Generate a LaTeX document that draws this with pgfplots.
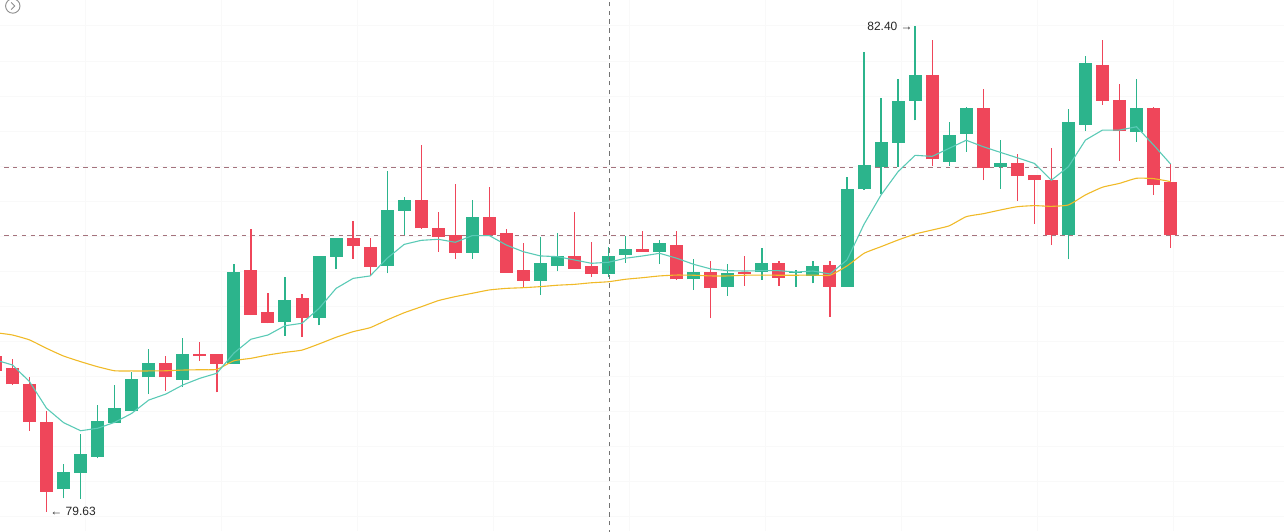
\documentclass[border=0pt]{standalone}
\usepackage{pgfplots}
\pgfplotsset{compat=1.18}
\usepackage{pgfplotstable}
\usepackage{fontspec}
\setmainfont{Liberation Sans}
\definecolor{cgreen}{RGB}{44,180,140}
\definecolor{cred}{RGB}{239,70,90}
\definecolor{corange}{RGB}{240,186,40}
\definecolor{cteal}{RGB}{90,202,182}
\definecolor{cdash}{RGB}{165,115,125}

\pgfplotstableread{
i O C H L
3 79.757 79.854 79.899 79.705
4 79.852 79.958 80.071 79.702
5 79.943 80.146 80.236 79.934
6 80.137 80.221 80.350 80.133
7 80.205 80.386 80.428 80.203
8 80.396 80.477 80.557 80.300
10 80.382 80.529 80.622 80.342
13 80.473 80.996 81.042 80.472
16 80.711 80.837 80.970 80.633
18 80.736 81.088 81.090 80.692
19 81.084 81.190 81.193 81.012
22 81.032 81.350 81.573 80.989
23 81.346 81.407 81.423 81.207
27 81.107 81.310 81.407 81.072
31 80.947 81.048 81.198 80.865
32 81.032 81.086 81.217 81.000
35 80.987 81.086 81.141 80.970
36 81.095 81.126 81.204 81.049
38 81.112 81.162 81.179 81.042
40 80.955 80.995 81.069 80.894
42 80.913 80.989 81.040 80.861
44 80.995 81.048 81.132 80.951
46 80.991 80.996 81.008 80.911
47 80.975 81.031 81.059 80.932
49 80.913 81.468 81.537 80.911
50 81.468 81.605 82.250 81.467
51 81.594 81.738 81.991 81.440
52 81.734 81.972 82.099 81.597
53 81.974 82.119 82.400 81.862
55 81.626 81.778 81.852 81.603
56 81.785 81.932 81.935 81.683
58 81.594 81.618 81.748 81.470
62 81.205 81.852 81.928 81.069
63 81.837 82.189 82.229 81.801
66 81.797 81.932 82.099 81.740
}\greentab

\pgfplotstableread{
i O C H L
-1 80.518 80.434 80.540 80.409
0 80.451 80.356 80.499 80.352
1 80.358 80.143 80.396 80.091
2 80.141 79.743 80.205 79.630
9 80.477 80.396 80.517 80.318
11 80.530 80.516 80.597 80.490
12 80.529 80.473 80.531 80.310
14 81.008 80.753 81.242 80.751
15 80.768 80.707 80.878 80.704
17 80.848 80.736 80.871 80.627
20 81.190 81.146 81.289 81.071
21 81.139 81.027 81.190 80.974
24 81.407 81.245 81.721 81.242
25 81.247 81.198 81.339 81.112
26 81.207 81.107 81.498 81.072
28 81.310 81.206 81.481 81.203
29 81.217 80.992 81.240 80.991
30 81.008 80.947 81.160 80.909
33 81.086 81.015 81.339 81.014
34 81.031 80.987 81.169 80.970
37 81.128 81.112 81.230 81.111
39 81.150 80.955 81.230 80.953
41 80.995 80.907 81.057 80.732
43 80.998 80.987 81.089 80.918
45 81.048 80.964 81.057 80.918
48 81.035 80.913 81.059 80.741
54 82.119 81.639 82.320 81.601
57 81.932 81.588 82.040 81.521
59 81.618 81.546 81.670 81.401
60 81.550 81.520 81.550 81.272
61 81.521 81.205 81.702 81.150
64 82.179 81.974 82.320 81.951
65 81.978 81.801 82.069 81.631
67 81.932 81.493 81.935 81.437
68 81.510 81.205 81.611 81.132
}\redtab

\pgfplotstableread{
i fast slow
-0.734 80.487 80.647
0 80.466 80.637
1 80.371 80.609
2 80.219 80.561
3 80.137 80.517
4 80.091 80.485
5 80.105 80.456
6 80.139 80.433
7 80.190 80.432
8 80.266 80.432
9 80.300 80.433
10 80.352 80.437
11 80.390 80.439
12 80.419 80.441
13 80.534 80.490
14 80.613 80.504
15 80.637 80.523
16 80.690 80.538
17 80.704 80.551
18 80.789 80.586
19 80.903 80.624
20 80.960 80.656
21 80.974 80.679
22 81.075 80.723
23 81.154 80.764
24 81.177 80.798
25 81.183 80.833
26 81.166 80.856
27 81.204 80.875
28 81.204 80.894
29 81.150 80.903
30 81.112 80.907
31 81.088 80.913
32 81.084 80.921
33 81.065 80.926
34 81.046 80.935
35 81.052 80.941
36 81.075 80.955
37 81.088 80.964
38 81.103 80.974
39 81.075 80.979
40 81.040 80.978
41 81.014 80.974
42 81.004 80.974
43 81.002 80.978
44 81.004 80.979
45 81.004 80.978
46 80.996 80.978
47 81.002 80.979
48 80.985 80.978
49 81.065 81.031
50 81.269 81.103
51 81.436 81.141
52 81.569 81.179
53 81.662 81.213
54 81.656 81.236
55 81.702 81.260
56 81.748 81.312
57 81.711 81.329
58 81.679 81.350
59 81.648 81.369
60 81.616 81.375
61 81.520 81.371
62 81.597 81.379
63 81.749 81.436
64 81.806 81.480
65 81.806 81.502
66 81.825 81.531
67 81.721 81.529
68 81.612 81.512
}\matab

\begin{document}
\begin{tikzpicture}
\path[use as bounding box] (0,0) rectangle (642pt,265.5pt);
\begin{axis}[
  at={(0,0)}, anchor=south west,
  scale only axis, width=642pt, height=265.5pt,
  xmin=-0.734, xmax=74.66, ymin=79.519, ymax=82.548,
  axis line style={draw=none},
  major tick length=0pt,
  xtick={4.257,12.243,20.229,28.215,36.201,44.187,52.173,60.159,68.145},
  ytick={79.6,79.8,80.0,80.2,80.4,80.6,80.8,81.0,81.2,81.4,81.6,81.8,82.0,82.2,82.4},
  xticklabels={}, yticklabels={},
  grid=major,
  major grid style={color=black!2.5, line width=0.5pt},
  clip=true,
]
% reference dashed lines
\addplot[cdash, line width=0.5pt, dash pattern=on 2.2pt off 2.2pt, forget plot] coordinates {(-1,81.595) (75,81.595)};
\addplot[cdash, line width=0.5pt, dash pattern=on 2.2pt off 2.2pt, forget plot] coordinates {(-1,81.207) (75,81.207)};

% wicks
\addplot[draw=none, mark=none, forget plot,
  error bars/.cd, y dir=plus, y explicit, error mark=none,
  error bar style={draw=cgreen, line width=0.65pt}]
  table[x=i, y=L, y error expr=\thisrow{H}-\thisrow{L}] {\greentab};
\addplot[draw=none, mark=none, forget plot,
  error bars/.cd, y dir=plus, y explicit, error mark=none,
  error bar style={draw=cred, line width=0.65pt}]
  table[x=i, y=L, y error expr=\thisrow{H}-\thisrow{L}] {\redtab};
% bodies
\addplot[draw=none, mark=none, forget plot,
  error bars/.cd, y dir=plus, y explicit, error mark=none,
  error bar style={draw=cgreen, line width=6.5pt}]
  table[x=i, y=O, y error expr=\thisrow{C}-\thisrow{O}] {\greentab};
\addplot[draw=none, mark=none, forget plot,
  error bars/.cd, y dir=plus, y explicit, error mark=none,
  error bar style={draw=cred, line width=6.5pt}]
  table[x=i, y=C, y error expr=\thisrow{O}-\thisrow{C}] {\redtab};

% moving averages
\addplot[corange, line width=0.55pt, mark=none, smooth, tension=0.3] table[x=i, y=slow] {\matab};
\addplot[cteal, line width=0.55pt, mark=none] table[x=i, y=fast] {\matab};

% crosshair
\addplot[black!55, line width=0.5pt, dash pattern=on 2.2pt off 2.2pt, forget plot] coordinates {(35.03,79.4) (35.03,82.7)};

\node[anchor=east, inner sep=0pt, text=black!85, font=\fontsize{6}{7}\selectfont] at (axis cs:52.88,82.400) {82.40 →};
\node[anchor=west, inner sep=0pt, text=black!85, font=\fontsize{6}{7}\selectfont] at (axis cs:2.2,79.630) {← 79.63};
\end{axis}
\draw[black!45, line width=0.45pt] (6.4pt,262.5pt) circle (3.6pt);
\draw[black!45, line width=0.45pt] (5.6pt,264.3pt) -- (7.4pt,262.5pt) -- (5.6pt,260.7pt);
\end{tikzpicture}
\end{document}
